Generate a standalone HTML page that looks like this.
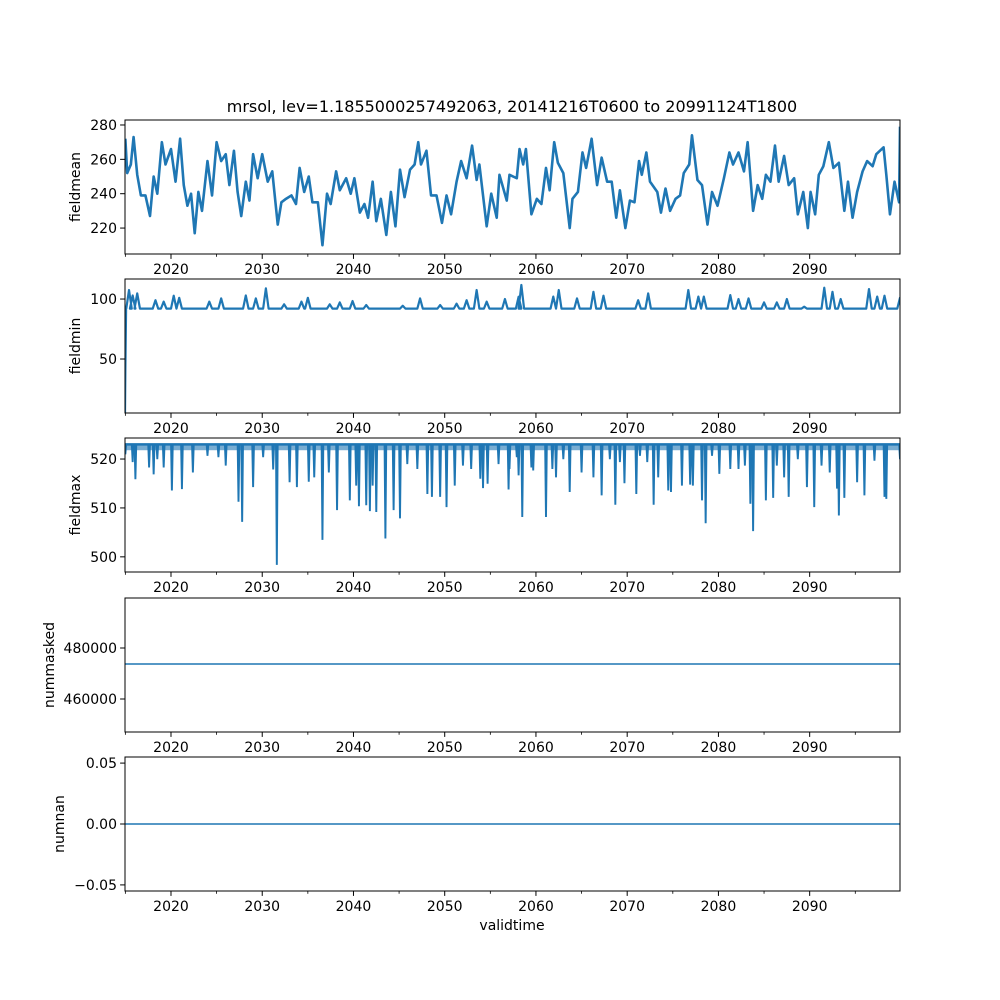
<!DOCTYPE html>
<html><head><meta charset="utf-8">
<style>
html,body{margin:0;padding:0;background:#fff;}
svg{display:block;font-family:"DejaVu Sans","Liberation Sans",sans-serif;}
</style></head>
<body>
<svg id="fig" width="1000" height="1000" viewBox="0 0 1000 1000" xmlns="http://www.w3.org/2000/svg">
<rect width="1000" height="1000" fill="#fff"/>
<text x="512" y="112" font-size="16" text-anchor="middle" fill="#000">mrsol, lev=1.1855000257492063, 20141216T0600 to 20991124T1800</text>
<text x="512" y="930" font-size="14" text-anchor="middle" fill="#000">validtime</text>
</svg>
<script>
// ---- data ----
const meanYears=[2015.0,2015.2,2015.6,2015.9,2016.3,2016.7,2017.2,2017.7,2018.1,2018.5,2019.0,2019.4,2020.0,2020.5,2021.0,2021.4,2021.8,2022.2,2022.6,2023.0,2023.4,2024.0,2024.5,2025.0,2025.5,2026.0,2026.4,2026.9,2027.3,2027.7,2028.2,2028.6,2029.0,2029.5,2030.0,2030.6,2031.1,2031.7,2032.1,2032.6,2033.2,2033.7,2034.1,2034.6,2035.1,2035.5,2036.1,2036.6,2037.1,2037.5,2038.1,2038.5,2039.2,2039.7,2040.1,2040.7,2041.2,2041.6,2042.1,2042.5,2043.0,2043.6,2044.1,2044.6,2045.1,2045.6,2046.2,2046.7,2047.1,2047.4,2048.0,2048.5,2049.1,2049.7,2050.2,2050.7,2051.3,2051.8,2052.4,2053.0,2053.5,2053.8,2054.6,2055.1,2055.7,2056.0,2056.8,2057.1,2057.9,2058.2,2058.6,2058.9,2059.5,2060.1,2060.6,2061.1,2061.5,2062.0,2062.4,2063.0,2063.7,2064.0,2064.6,2065.1,2065.5,2066.1,2066.7,2067.2,2067.8,2068.3,2068.8,2069.2,2069.8,2070.3,2070.8,2071.3,2071.6,2072.1,2072.5,2073.3,2073.7,2074.2,2074.7,2075.3,2075.8,2076.2,2076.8,2077.1,2077.7,2078.2,2078.8,2079.3,2079.9,2080.6,2081.2,2081.6,2082.2,2082.8,2083.2,2083.8,2084.3,2084.8,2085.2,2085.7,2086.2,2086.6,2087.2,2087.7,2088.3,2088.7,2089.3,2089.8,2090.1,2090.6,2091.0,2091.5,2092.1,2092.6,2093.2,2093.8,2094.2,2094.7,2095.2,2095.8,2096.3,2096.9,2097.3,2098.1,2098.4,2098.8,2099.3,2099.8,2099.9];
const meanVals=[272,252,257,273,251,239,239,227,250,240,270,257,266,247,272,245,233,240,217,241,230,259,239,270,259,263,245,265,241,227,247,236,263,249,263,247,253,222,235,237,239,234,255,241,250,235,235,210,240,234,253,242,249,240,249,229,234,226,247,224,237,216,241,221,254,238,254,257,270,257,265,239,239,223,239,228,247,259,249,268,248,257,221,240,226,251,236,251,249,266,257,266,228,237,234,255,242,270,258,252,220,237,241,264,255,272,245,261,247,247,226,242,220,236,235,259,251,264,247,241,229,243,230,237,239,252,257,274,248,245,222,241,233,249,264,257,264,253,270,230,245,237,251,247,268,247,262,245,249,228,241,220,241,228,251,256,270,255,258,230,247,226,241,253,259,256,263,267,251,228,247,235,279];
const minPeakYears=[2015.4,2015.8,2016.3,2018.3,2019.2,2020.3,2020.9,2024.2,2025.5,2028.2,2029.3,2030.4,2032.4,2034.3,2035.0,2037.4,2038.5,2039.9,2041.4,2045.4,2047.3,2049.5,2051.3,2052.4,2053.5,2054.6,2056.6,2058.1,2058.4,2061.9,2062.5,2064.5,2066.3,2067.4,2071.2,2072.3,2076.7,2077.8,2078.4,2081.3,2082.2,2083.3,2085.0,2086.4,2087.5,2089.4,2091.6,2092.5,2093.4,2096.5,2097.4,2098.2,2099.9];
const minPeakVals=[107.5,103,104.7,99,97.8,102.8,101,97.8,100.5,103,100.5,108.9,95.6,97.8,101,95.6,97.2,98.3,95,94.4,100.5,95,96.1,99,107.5,97.8,100,101.9,111.7,102,107.5,100.5,106,102.8,99,104.7,107.5,102,102,103.3,100,100.5,97.2,97.2,100,93.6,109.4,106,100,108.3,102,102.8,101];
const minBase=92;
const minStartYears=[2014.96,2015.0,2015.08];
const minStartVals=[5,40,92];
const maxSpikeYears=[2015.0,2015.8,2016.1,2017.6,2018.1,2018.5,2019.2,2020.1,2021.2,2022.4,2024.0,2025.2,2026.0,2027.4,2027.8,2029.0,2030.1,2031.2,2031.6,2033.0,2033.8,2035.1,2035.7,2036.6,2037.3,2038.2,2039.6,2040.3,2040.6,2041.4,2041.8,2042.1,2042.5,2043.5,2044.4,2045.1,2045.9,2047.0,2048.1,2048.6,2049.5,2050.2,2051.1,2052.0,2052.9,2053.9,2054.2,2054.7,2055.9,2057.0,2057.9,2057.1,2058.1,2058.5,2059.5,2059.7,2061.1,2061.8,2062.2,2063.0,2063.7,2065.0,2066.3,2067.2,2068.1,2068.7,2069.2,2069.7,2071.0,2071.4,2072.2,2072.9,2073.4,2074.5,2074.8,2076.0,2076.9,2077.2,2078.2,2078.6,2079.3,2080.1,2081.3,2082.2,2082.9,2083.5,2083.8,2085.2,2086.0,2086.4,2087.2,2087.7,2088.7,2089.7,2090.5,2091.3,2092.2,2093.0,2093.2,2093.8,2095.2,2096.0,2097.1,2098.2,2098.4,2099.9];
const maxSpikeVals=[521.1,519.5,516.0,518.4,517.0,520.1,518.4,513.7,514.0,517.4,520.8,520.5,518.8,511.4,507.3,514.4,520.5,518.0,498.5,515.4,514.4,515.5,516.4,503.6,517.4,509.7,511.7,514.7,510.5,510.7,509.5,514.7,509.3,503.9,509.7,508.0,519.1,518.1,513.0,512.4,512.4,510.3,514.7,518.8,518.1,516.1,514.2,515.1,519.1,513.9,520.5,518.1,516.8,508.3,518.4,517.8,508.3,518.1,516.4,520.1,513.4,517.4,516.4,512.7,520.1,510.8,519.5,515.2,513.0,520.8,519.5,510.8,516.4,513.7,513.4,514.7,514.9,514.7,511.7,507.0,520.8,517.1,518.1,518.1,518.8,511.0,505.4,511.7,512.2,518.8,516.4,512.4,520.1,514.4,510.3,518.8,517.4,514.1,508.6,512.2,515.4,512.7,519.8,512.4,512.0,520.1];
const maxBase=523;
const numMaskedVal=473725;
const numNanVal=0;
const xMajorTicks=[2020,2030,2040,2050,2060,2070,2080,2090];
const xMinorTicks=[2015,2025,2035,2045,2055,2065,2075,2085,2095];
// ---- layout ----
const svg=document.getElementById('fig');
const NS='http://www.w3.org/2000/svg';
const X0=125,X1=900,T0=2014.96,T1=2099.9;
const xs=t=>X0+(t-T0)/(T1-T0)*(X1-X0);
const C='#1f77b4';
function mk(tag,attrs,parent){const e=document.createElementNS(NS,tag);for(const k in attrs)e.setAttribute(k,attrs[k]);(parent||svg).appendChild(e);return e;}
const panels=[
 {name:'fieldmean',lx:80,top:120,bot:254,lo:204.9,hi:282.9,ticks:[220,240,260,280],labels:['220','240','260','280']},
 {name:'fieldmin',lx:80,top:279,bot:413,lo:5,hi:116.7,ticks:[50,100],labels:['50','100']},
 {name:'fieldmax',lx:80,top:438,bot:572,lo:496.9,hi:524.3,ticks:[500,510,520],labels:['500','510','520']},
 {name:'nummasked',lx:54,top:598,bot:732,lo:447059,hi:499608,ticks:[460000,480000],labels:['460000','480000']},
 {name:'numnan',lx:64,top:757,bot:891,lo:-0.055,hi:0.055,ticks:[-0.05,0,0.05],labels:['\u22120.05','0.00','0.05']}
];
panels.forEach((p,i)=>{
 const g=mk('g',{});
 
 
 const ys=v=>p.bot-(v-p.lo)/(p.hi-p.lo)*(p.bot-p.top);
 p.ys=ys;
 const cp=mk('clipPath',{id:'cp'+i},g);
 mk('rect',{x:X0,y:p.top,width:X1-X0,height:p.bot-p.top},cp);
 p.plot=mk('g',{'clip-path':'url(#cp'+i+')'},g);
 
 
 p.g=g;
 p.ticks.forEach((v,j)=>{
  const y=ys(v);
  const tl=mk('line',{x1:X0-4.9,x2:X0,y1:y,y2:y,stroke:'#000','stroke-width':1},g);
  
  
  const tx=mk('text',{x:X0-8,y:y+5,'font-size':14,'text-anchor':'end',fill:'#000'},g);
  tx.textContent=p.labels[j];
  
  
 });
 xMajorTicks.forEach(t=>{
  const x=xs(t);
  const tl=mk('line',{x1:x,x2:x,y1:p.bot,y2:p.bot+4.9,stroke:'#000','stroke-width':1},g);
  
  
  const tx=mk('text',{x:x,y:p.bot+20,'font-size':14,'text-anchor':'middle',fill:'#000'},g);
  tx.textContent=String(t);
  
  
 });
 xMinorTicks.forEach(t=>{
  const x=xs(t);
  const tl=mk('line',{x1:x,x2:x,y1:p.bot,y2:p.bot+2.8,stroke:'#000','stroke-width':0.8},g);
  
  
 });
 const yl=mk('text',{x:0,y:0,'font-size':14,'text-anchor':'middle',fill:'#000',transform:`translate(${p.lx},${(p.top+p.bot)/2}) rotate(-90)`},g);
 yl.textContent=p.name;
 
 
});
function line(p,pts,name,w){
 const d=pts.map((q,k)=>(k?'L':'M')+xs(q[0]).toFixed(2)+','+p.ys(q[1]).toFixed(2)).join('');
 const e=mk('path',{d:d,fill:'none',stroke:C,'stroke-width':w||1.5,'stroke-linejoin':'round'},p.plot);
 
 
}
line(panels[0],meanYears.map((t,k)=>[t,meanVals[k]]),'fieldmean-line',2.6);
{const pts=minStartYears.map((t,k)=>[t,minStartVals[k]]);
 const idx=minPeakYears.map((t,k)=>k).sort((a,b)=>minPeakYears[a]-minPeakYears[b]);
 idx.forEach(k=>{const t=minPeakYears[k];pts.push([t-0.3,minBase]);pts.push([t,minPeakVals[k]]);pts.push([t+0.3,minBase]);});
 pts.push([T1,minBase]);
 line(panels[1],pts,'fieldmin-line',2.2);}
{const p=panels[2];
 line(p,[[T0,maxBase],[T1,maxBase]],'fieldmax-baseline',2.5);
 maxSpikeYears.forEach((t,k)=>{
  const e=mk('path',{d:`M${xs(t-0.12)},${p.ys(maxBase)}L${xs(t-0.03)},${p.ys(maxSpikeVals[k])}L${xs(t+0.03)},${p.ys(maxSpikeVals[k])}L${xs(t+0.12)},${p.ys(maxBase)}`,fill:C,stroke:C,'stroke-width':1.4},p.plot);
  
  
 });
 const b=mk('rect',{x:X0,y:p.ys(maxBase),width:X1-X0,height:p.ys(521.8)-p.ys(maxBase),fill:C,opacity:0.6},p.plot);
 
 
}
line(panels[3],[[T0,numMaskedVal],[T1,numMaskedVal]],'nummasked-line',1.5);
line(panels[4],[[T0,numNanVal],[T1,numNanVal]],'numnan-line',1.5);
panels.forEach(p=>{
 const r=mk('rect',{x:X0,y:p.top,width:X1-X0,height:p.bot-p.top,fill:'none',stroke:'#000','stroke-width':1},p.g);
 
 
});
</script>
</body></html>
